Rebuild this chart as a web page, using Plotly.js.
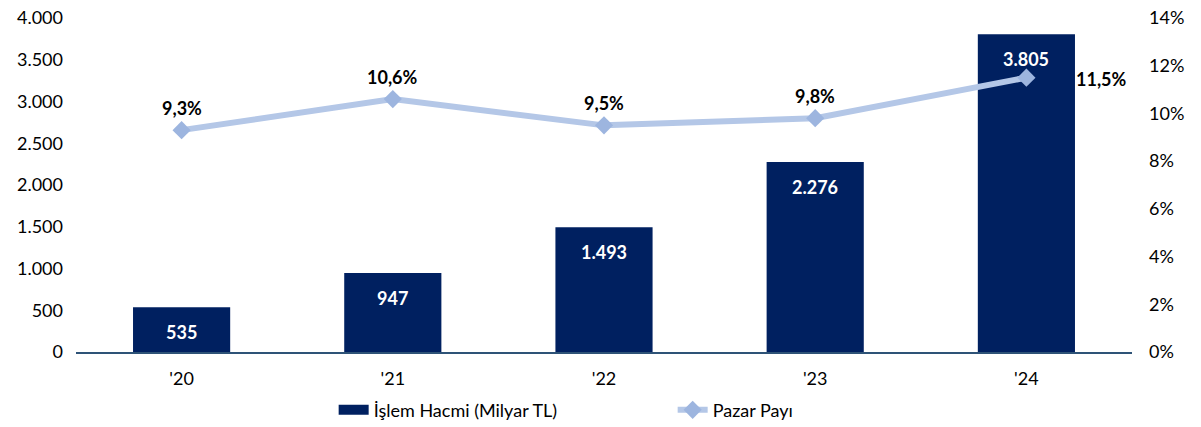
<!DOCTYPE html>
<html><head><meta charset="utf-8">
<script src="https://cdn.plot.ly/plotly-3.0.1.min.js"></script>
<style>body{margin:0}#c{width:1201px;height:427px}</style>
</head><body><div id="c"></div>
<script>
const categories = ["'20", "'21", "'22", "'23", "'24"];
const volume = [535, 947, 1493, 2276, 3805];
const volumeLabels = ["535", "947", "1.493", "2.276", "3.805"];
const share = [9.3, 10.6, 9.5, 9.8, 11.5];
const shareLabels = ["9,3%", "10,6%", "9,5%", "9,8%", "11,5%"];
const leftTicks = [0, 500, 1000, 1500, 2000, 2500, 3000, 3500, 4000];
const leftTickText = ["0", "500", "1.000", "1.500", "2.000", "2.500", "3.000", "3.500", "4.000"];
const rightTicks = [0, 2, 4, 6, 8, 10, 12, 14];
const rightTickText = ["0%", "2%", "4%", "6%", "8%", "10%", "12%", "14%"];

const F = "Lato, 'Open Sans', sans-serif";
const idx = categories.map((c,i)=>i);
const traces = [
  {type:'bar', x:idx, y:volume, name:'İşlem Hacmi (Milyar TL)', marker:{color:'#002060'}, hoverinfo:'none', showlegend:false},
  {type:'scatter', mode:'lines', x:[null], y:[null], name:'İşlem Hacmi (Milyar TL)', line:{color:'#002060', width:11}, hoverinfo:'none'},
  {type:'scatter', mode:'lines+markers', x:idx, y:share, yaxis:'y2', name:'Pazar Payı',
   line:{color:'#B4C7E7', width:6}, marker:{symbol:'diamond', size:14, color:'#9DB5DF'}, hoverinfo:'none'}
];
const annotations = [];
idx.forEach((c,i)=>{
  annotations.push({x:c, y:volume[i], xref:'x', yref:'y', text:'<b>'+volumeLabels[i]+'</b>', showarrow:false,
    yanchor:'top', yshift:-12, font:{family:F, size:18, color:'#ffffff'}});
  const last = i === idx.length-1;
  annotations.push({x:c, y:share[i], xref:'x', yref:'y2', text:'<b>'+shareLabels[i]+'</b>', showarrow:false,
    yanchor:'bottom', xanchor: last ? 'left' : 'center', xshift: last ? 48 : 0, yshift: last ? -14 : 9,
    font:{family:F, size:18, color:'#000000'}});
});
const layout = {
  width:1201, height:427,
  margin:{l:76, r:69, t:18, b:75, autoexpand:false},
  paper_bgcolor:'#ffffff', plot_bgcolor:'#ffffff',
  font:{family:F, size:18, color:'#000000'},
  bargap:0.54,
  showlegend:true,
  legend:{orientation:'h', x:0.244, xanchor:'left', y:-0.174, yanchor:'middle', entrywidth:294, entrywidthmode:'pixels',
    font:{family:F, size:18, color:'#000000'}},
  xaxis:{type:'linear', range:[-0.5, 4.5], tickvals:idx, ticktext:categories, showgrid:false, zeroline:false, showline:true, linecolor:'#2E5377', linewidth:2, ticks:'', tickfont:{family:F, size:18}, ticklabelstandoff:9},
  yaxis:{range:[0,4000], tickvals:leftTicks, ticktext:leftTickText, showgrid:false, zeroline:false, ticks:'', tickfont:{family:F, size:18}, ticklabelstandoff:12},
  yaxis2:{range:[0,14], overlaying:'y', side:'right', tickvals:rightTicks, ticktext:rightTickText, showgrid:false, zeroline:false, ticks:'', tickfont:{family:F, size:18}, ticklabelstandoff:16},
  annotations:annotations
};
Plotly.newPlot('c', traces, layout, {displayModeBar:false, staticPlot:true});
</script></body></html>
